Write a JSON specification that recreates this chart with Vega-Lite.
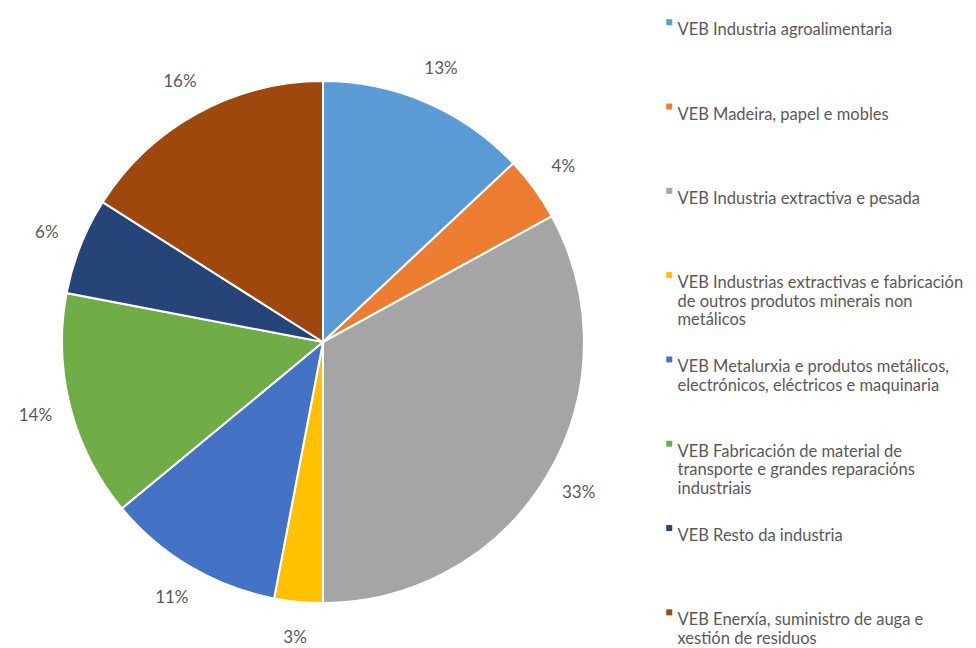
{
  "$schema": "https://vega.github.io/schema/vega-lite/v6.json",
  "width": 646,
  "height": 648,
  "autosize": {"type": "none"},
  "padding": {"left": 0, "top": 18, "right": 330, "bottom": 0},
  "background": "white",
  "config": {"view": {"stroke": null}, "font": "Lato"},
  "data": {
    "values": [
      {"orden": 1, "sector": "VEB  Industria agroalimentaria", "pct": 13, "etiqueta": "13%"},
      {"orden": 2, "sector": "VEB  Madeira, papel e mobles", "pct": 4, "etiqueta": "4%"},
      {"orden": 3, "sector": "VEB  Industria extractiva e pesada", "pct": 33, "etiqueta": "33%"},
      {"orden": 4, "sector": "VEB  Industrias extractivas e fabricación|de outros produtos minerais non|metálicos", "pct": 3, "etiqueta": "3%"},
      {"orden": 5, "sector": "VEB  Metalurxia e produtos metálicos,|electrónicos, eléctricos e maquinaria", "pct": 11, "etiqueta": "11%"},
      {"orden": 6, "sector": "VEB  Fabricación de material de|transporte e grandes reparacións|industriais", "pct": 14, "etiqueta": "14%"},
      {"orden": 7, "sector": "VEB  Resto da industria", "pct": 6, "etiqueta": "6%"},
      {"orden": 8, "sector": "VEB  Enerxía, suministro de auga e|xestión de residuos", "pct": 16, "etiqueta": "16%"}
    ]
  },
  "encoding": {
    "theta": {"field": "pct", "type": "quantitative", "stack": true},
    "order": {"field": "orden", "type": "quantitative"}
  },
  "layer": [
    {
      "mark": {"type": "arc", "outerRadius": 261, "stroke": "white", "strokeWidth": 2},
      "encoding": {
        "color": {
          "field": "sector",
          "type": "nominal",
          "sort": null,
          "scale": {
            "domain": [
              "VEB  Industria agroalimentaria",
              "VEB  Madeira, papel e mobles",
              "VEB  Industria extractiva e pesada",
              "VEB  Industrias extractivas e fabricación|de outros produtos minerais non|metálicos",
              "VEB  Metalurxia e produtos metálicos,|electrónicos, eléctricos e maquinaria",
              "VEB  Fabricación de material de|transporte e grandes reparacións|industriais",
              "VEB  Resto da industria",
              "VEB  Enerxía, suministro de auga e|xestión de residuos"
            ],
            "range": ["#5B9BD5", "#ED7D31", "#A5A5A5", "#FFC000", "#4472C4", "#70AD47", "#264478", "#9E480E"]
          },
          "legend": {
            "title": null,
            "orient": "none",
            "legendX": 661,
            "legendY": -4,
            "symbolType": "square",
            "symbolSize": 36,
            "symbolStrokeWidth": 0,
            "labelFont": "Lato",
            "labelFontSize": 16.5,
            "labelColor": "#595959",
            "labelLimit": 400,
            "labelOffset": 0,
            "labelBaseline": "top",
            "gridAlign": "all",
            "rowPadding": 22.3,
            "labelExpr": "split(datum.label, '|')"
          }
        }
      }
    },
    {
      "mark": {"type": "text", "radius": 297, "fontSize": 17, "font": "Lato", "fill": "#595959"},
      "encoding": {
        "text": {"field": "etiqueta", "type": "nominal"}
      }
    }
  ]
}
